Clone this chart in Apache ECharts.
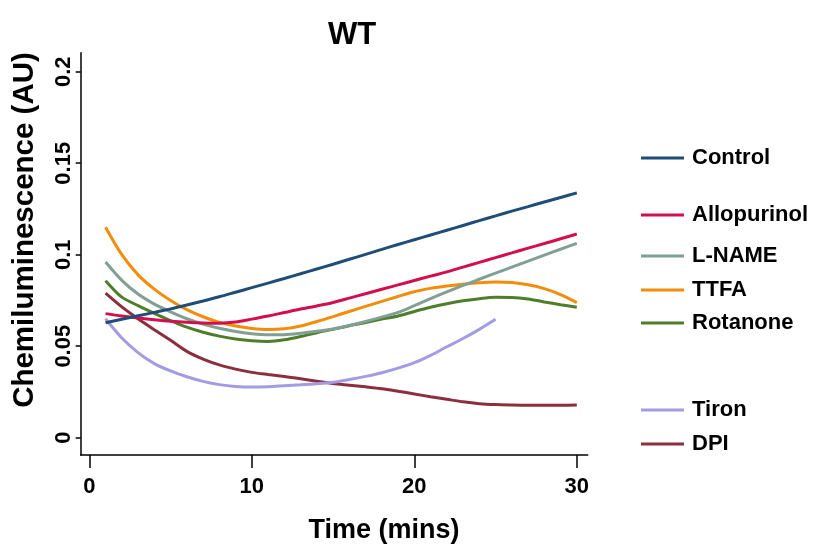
<!DOCTYPE html>
<html>
<head>
<meta charset="utf-8">
<script src="https://cdn.jsdelivr.net/npm/echarts@6/dist/echarts.min.js"></script>
<style>
html,body{margin:0;padding:0;background:#fff;}
#chart{width:819px;height:546px;}
</style>
</head>
<body>
<div id="chart"></div>
<script>
// ---- data ----
var times = [1,2,3,4,5,6,7,8,9,10,11,12,13,14,15,16,17,18,19,20,21,22,23,24,25,26,27,28,29,30];
var control = [0.0628,0.0647,0.0666,0.0685,0.0704,0.0725,0.0747,0.0770,0.0795,0.0820,0.0845,0.0870,0.0896,0.0922,0.0948,0.0975,0.1002,0.1029,0.1056,0.1082,0.1108,0.1134,0.1160,0.1186,0.1212,0.1238,0.1263,0.1288,0.1313,0.1338];
var allopurinol = [0.0678,0.0665,0.0654,0.0645,0.0637,0.0631,0.0627,0.0626,0.0632,0.0648,0.0665,0.0684,0.0703,0.0720,0.0739,0.0763,0.0787,0.0811,0.0835,0.0859,0.0883,0.0906,0.0932,0.0958,0.0984,0.1010,0.1036,0.1061,0.1087,0.1113];
var lname = [0.0960,0.0860,0.0785,0.0730,0.0688,0.0650,0.0621,0.0598,0.0580,0.0568,0.0562,0.0563,0.0571,0.0582,0.0594,0.0613,0.0635,0.0659,0.0685,0.0722,0.0760,0.0797,0.0832,0.0866,0.0899,0.0932,0.0965,0.0998,0.1030,0.1062];
var ttfa = [0.1150,0.1000,0.0890,0.0812,0.0750,0.0700,0.0661,0.0630,0.0610,0.0597,0.0591,0.0595,0.0610,0.0635,0.0662,0.0690,0.0718,0.0745,0.0772,0.0798,0.0816,0.0829,0.0839,0.0847,0.0851,0.0848,0.0836,0.0815,0.0782,0.0738];
var rotanone = [0.0858,0.0768,0.0722,0.0680,0.0640,0.0604,0.0576,0.0555,0.0540,0.0530,0.0526,0.0535,0.0553,0.0574,0.0592,0.0612,0.0630,0.0648,0.0665,0.0690,0.0713,0.0732,0.0748,0.0760,0.0767,0.0766,0.0758,0.0742,0.0727,0.0713];
var tiron = [0.0650,0.0545,0.0465,0.0405,0.0365,0.0333,0.0308,0.0290,0.0280,0.0277,0.0279,0.0284,0.0289,0.0295,0.0303,0.0318,0.0335,0.0355,0.0380,0.0410,0.0450,0.0497,0.0542,0.0592,0.0647,null,null,null,null,null];
var dpi = [0.0790,0.0715,0.0650,0.0590,0.0532,0.0472,0.0430,0.0398,0.0375,0.0357,0.0345,0.0334,0.0322,0.0308,0.0296,0.0287,0.0278,0.0268,0.0254,0.0239,0.0224,0.0210,0.0196,0.0186,0.0181,0.0179,0.0178,0.0178,0.0178,0.0179];
var xTicks = [0,10,20,30];
var yTicks = [0,0.05,0.1,0.15,0.2];
var yTickLabels = ['0','0.05','0.1','0.15','0.2'];
var seriesNames = ['Control','Allopurinol','L-NAME','TTFA','Rotanone','Tiron','DPI'];
var seriesValues = [control, allopurinol, lname, ttfa, rotanone, tiron, dpi];
var seriesColors = ['#1f4d7a','#d20f4c','#7fa092','#f28c0a','#4e7d2c','#a39ce3','#8b2f3e'];
var legendCenters = [158, 215, 256, 290, 323, 410, 444];

// ---- chart ----
var chart = echarts.init(document.getElementById('chart'), null, {renderer: 'canvas'});
var font = 'Liberation Sans, Arial, sans-serif';

function pairs(vals){ return times.map(function(t,i){ return [t, vals[i]]; }); }

var series = seriesNames.map(function(n, i){
  return {
    name: n, type: 'line', data: pairs(seriesValues[i]),
    showSymbol: false, symbol: 'none', smooth: 0.3, connectNulls: false,
    lineStyle: {color: seriesColors[i], width: 3},
    itemStyle: {color: seriesColors[i]},
    z: 10 - i
  };
});

var legends = seriesNames.map(function(n, i){
  return {
    data: [n], orient: 'vertical', left: 641, top: legendCenters[i] - 11,
    padding: 0, itemWidth: 43, itemHeight: 3, icon: 'rect',
    selectedMode: false,
    textStyle: {fontFamily: font, fontWeight: 'bold', fontSize: 22, color: '#000', padding: [0,0,0,3]}
  };
});

var option = {
  animation: false,
  backgroundColor: '#fff',
  title: {
    text: 'WT', left: 347, top: 15, textAlign: 'center',
    textStyle: {fontFamily: font, fontWeight: 'bold', fontSize: 31, color: '#000'}
  },
  legend: legends,
  grid: {left: 80.7, top: 52.7, width: 507, height: 402.3, containLabel: false},
  xAxis: {
    type: 'value', min: -0.53, max: 30.67,
    axisLine: {onZero: false, lineStyle: {color: '#000', width: 1.5}},
    axisTick: {show: true, customValues: xTicks, length: 13, lineStyle: {color: '#000', width: 1.5}},
    axisLabel: {customValues: xTicks, margin: 21, fontFamily: font, fontWeight: 'bold', fontSize: 22, color: '#000'},
    splitLine: {show: false}
  },
  yAxis: {
    type: 'value', min: -0.00945, max: 0.2104,
    axisLine: {onZero: false, lineStyle: {color: '#000', width: 1.5}},
    axisTick: {show: true, customValues: yTicks, length: 5, lineStyle: {color: '#000', width: 1.5}},
    axisLabel: {
      customValues: yTicks, rotate: 90, margin: 6,
      fontFamily: font, fontWeight: 'bold', fontSize: 22, color: '#000',
      formatter: function(v){
        for (var k = 0; k < yTicks.length; k++) { if (Math.abs(v - yTicks[k]) < 1e-9) return yTickLabels[k]; }
        return '';
      }
    },
    splitLine: {show: false}
  },
  graphic: [
    {type: 'text', x: 25, y: 230, rotation: Math.PI/2,
     style: {text: 'Chemiluminescence (AU)', fontFamily: font, fontWeight: 'bold', fontSize: 29.5, fill: '#000', align: 'center', verticalAlign: 'middle'}},
    {type: 'text', x: 384, y: 531,
     style: {text: 'Time (mins)', fontFamily: font, fontWeight: 'bold', fontSize: 27, fill: '#000', align: 'center', verticalAlign: 'middle'}}
  ],
  series: series
};
chart.setOption(option);
</script>
</body>
</html>
